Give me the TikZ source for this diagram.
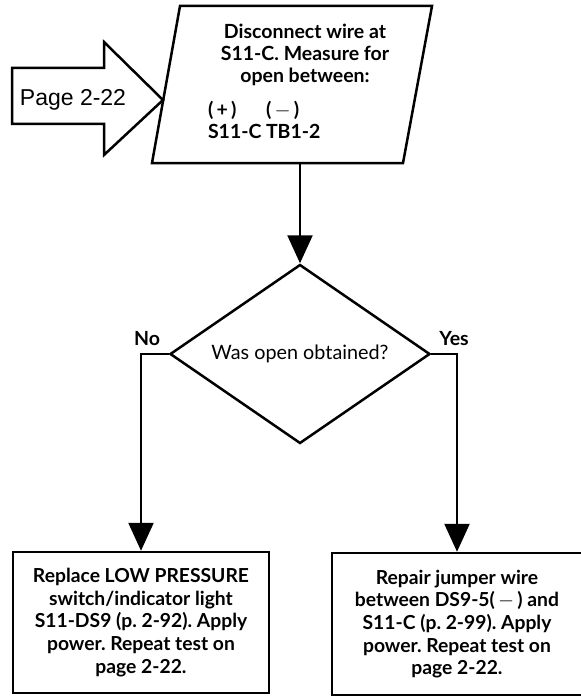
\documentclass[tikz,border=0pt]{standalone}
\usepackage{fontspec}
\setmainfont{Lato}
\newfontfamily\arialfont{Liberation Sans}
\usetikzlibrary{shapes.geometric,arrows.meta,positioning}
\frenchspacing

\begin{document}
\begin{tikzpicture}[x=1bp,y=-1bp,
    line width=2.5bp,
    dec/.style={diamond, draw, aspect=1.45, minimum width=260bp,
                minimum height=179bp, inner sep=0pt, font=\fontsize{19.8bp}{22bp}\selectfont},
    act/.style={rectangle, draw, align=center, inner sep=0pt,
                font=\fontsize{19.3bp}{22.6bp}\selectfont\bfseries},
    txt/.style={align=center, inner sep=0pt,
                font=\fontsize{19.5bp}{22bp}\selectfont\bfseries},
    lbl/.style={inner sep=2bp, font=\fontsize{19.5bp}{22bp}\selectfont\bfseries},
    flow/.style={-{Triangle[width=25bp,length=28bp]}}
]
\useasboundingbox (0,0) rectangle (581,698);

% start block and entry arrow
\draw (180,6) -- (432,6) -- (403,163) -- (152,163) -- cycle;
\coordinate (disb) at (300,163);
\node[txt, anchor=north] (distxt) at (305,23)
  {Disconnect wire at\\S11-C. Measure for\\open between:\\[12bp]%
   \makebox[194bp][l]{\makebox[58bp][l]{(\,+\,)}(\,$-$\,)}\\%
   \makebox[194bp][l]{\makebox[58bp][l]{S11-C}TB1-2}};
\draw (12,68) -- (104,68) -- (104,42) -- (163,100) -- (104,155)
      -- (104,124) -- (12,124) -- cycle;
\node[font=\arialfont\fontsize{23bp}{26bp}\selectfont, inner sep=0pt] (pg) at (73,100) {Page 2-22};

% decision
\node[dec] (dia) at (300,354) {Was open obtained?};

% outcomes
\node[act, minimum width=256bp, minimum height=141bp] (low) at (141,622.5)
  {Replace LOW PRESSURE\\switch/indicator light\\S11-DS9 (p.~2-92). Apply\\power. Repeat test on\\page 2-22.};
\node[act, minimum width=250bp, minimum height=142bp] (jmp) at (457,624)
  {Repair jumper wire\\between DS9-5(\,$-$\,) and\\S11-C (p.~2-99). Apply\\power. Repeat test on\\page 2-22.};

\draw[flow] (disb) -- (dia.north);
\draw[flow] (dia.west) -| node[pos=0.5, lbl, anchor=south, xshift=6bp, yshift=5bp] (no) {No} (low.north);
\draw[flow] (dia.east) -| node[pos=0.5, lbl, anchor=south, xshift=-3bp, yshift=5bp] (yes) {Yes} (jmp.north);
\end{tikzpicture}
\end{document}
